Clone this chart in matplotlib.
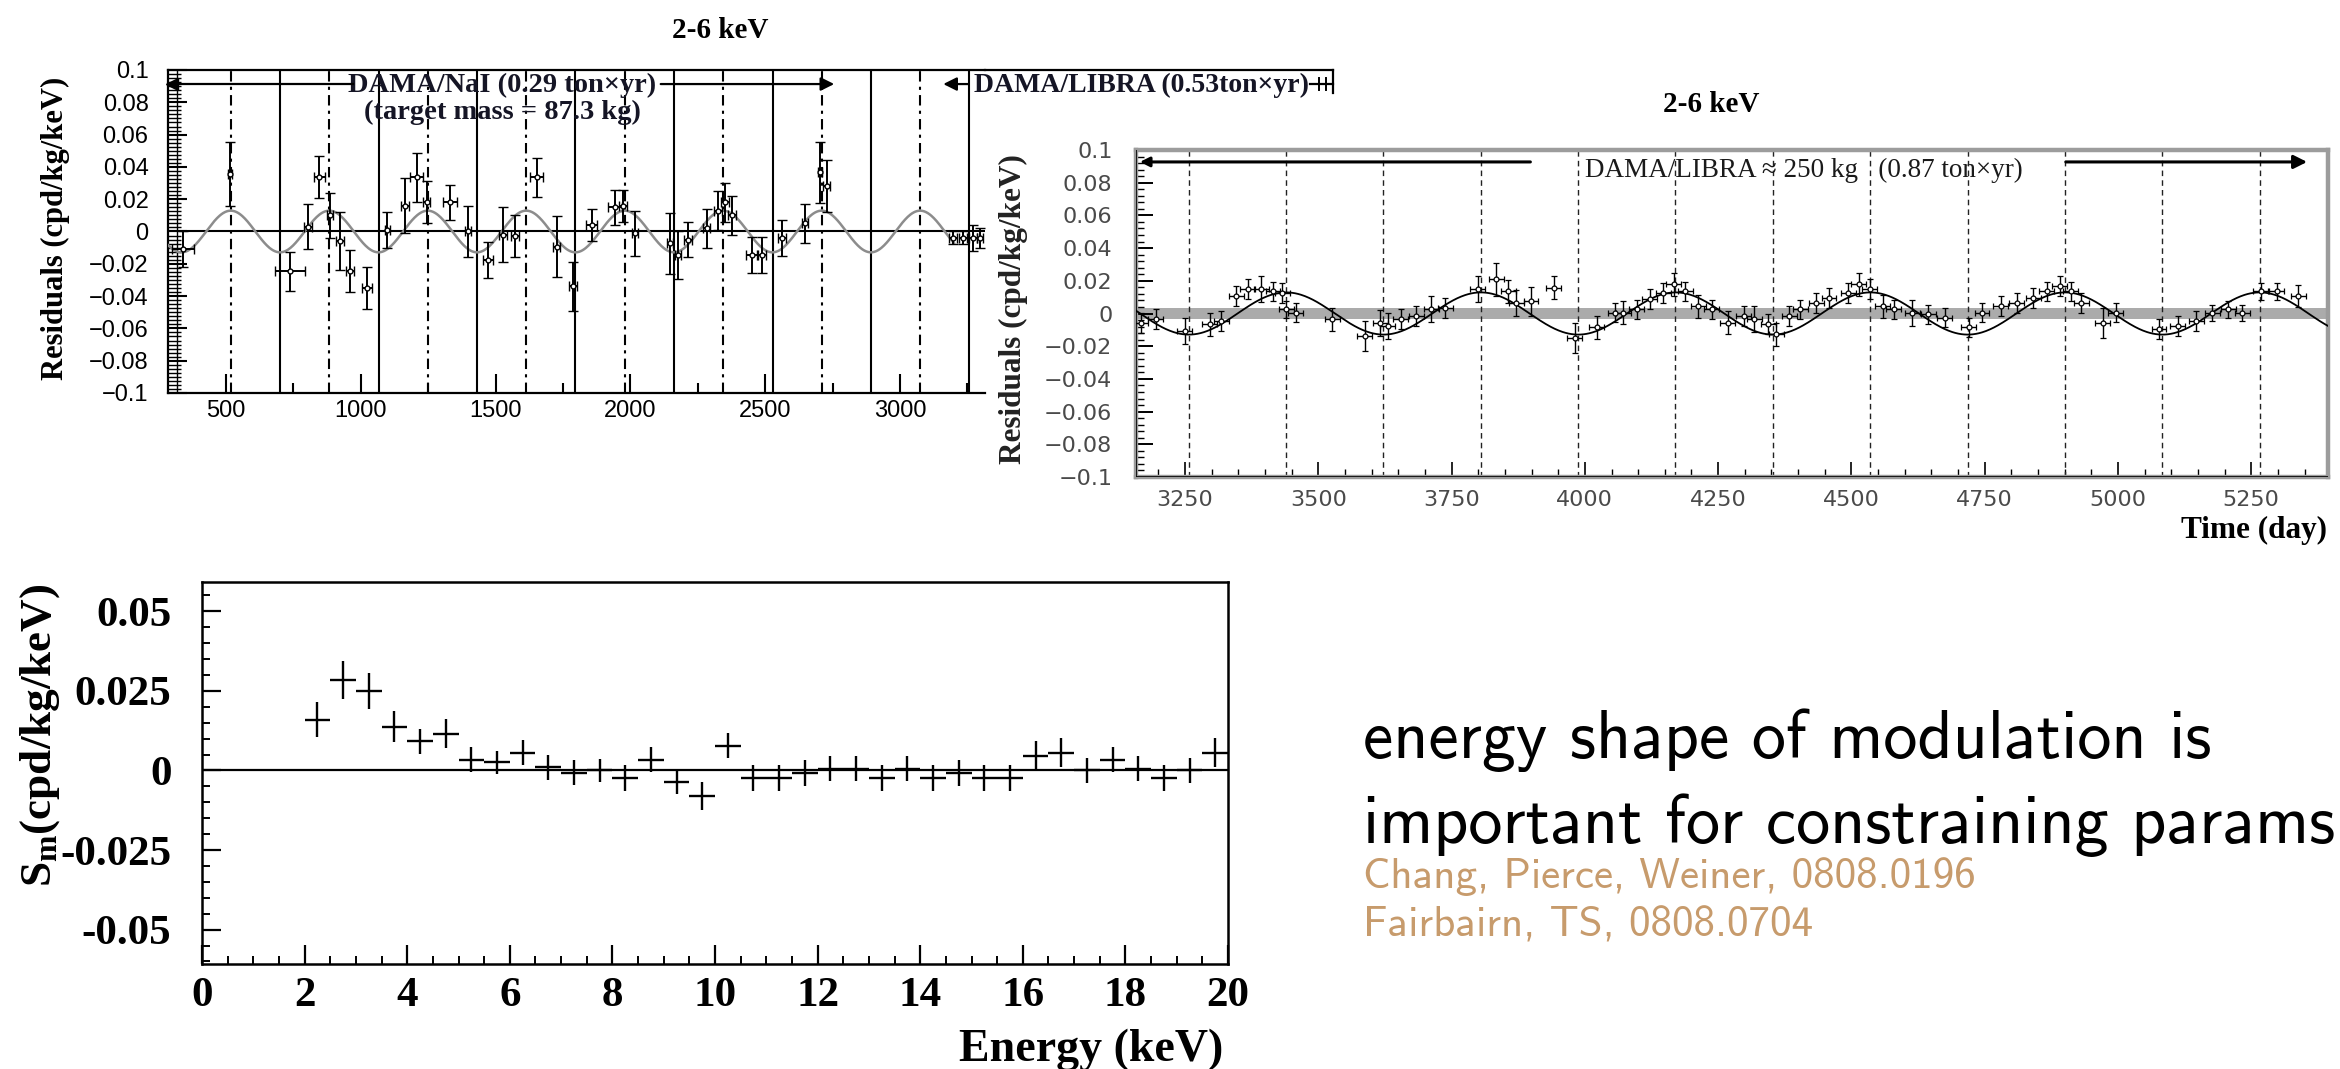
import matplotlib
matplotlib.use('Agg')
import matplotlib.pyplot as plt
import numpy as np
from matplotlib.ticker import MultipleLocator

plt.rcParams['mathtext.fontset'] = 'custom'
plt.rcParams['mathtext.rm'] = 'Liberation Serif:bold'
plt.rcParams['mathtext.bf'] = 'Liberation Serif:bold'
plt.rcParams['mathtext.it'] = 'Liberation Serif:bold'

# ---------------- data ----------------
# DAMA/NaI residuals (top-left)
nai_days = [340, 515, 737, 805, 846, 886, 923, 960, 1022, 1098, 1164, 1207, 1244, 1331,
            1398, 1472, 1528, 1572, 1652, 1726, 1788, 1856, 1943, 1973, 2017, 2147, 2177,
            2214, 2283, 2325, 2351, 2376, 2450, 2487, 2561, 2648, 2703, 2728,
            3198, 3234, 3271, 3297]
nai_res = [-0.011, 0.0356, -0.0247, 0.003, 0.0335, 0.010, -0.006, -0.0247, -0.035, 0.001,
           0.016, 0.0335, 0.018, 0.018, 0.0, -0.0176, -0.002, -0.003, 0.0335, -0.0094,
           -0.034, 0.004, 0.015, 0.016, -0.001, -0.0074, -0.0145, -0.005, 0.002, 0.013,
           0.018, 0.010, -0.0145, -0.0145, -0.004, 0.005, 0.0366, 0.028,
           -0.004, -0.004, -0.004, -0.004]
nai_err = [0.011, 0.020, 0.012, 0.014, 0.013, 0.014, 0.018, 0.013, 0.013, 0.011, 0.017,
           0.015, 0.013, 0.011, 0.016, 0.011, 0.017, 0.013, 0.012, 0.019, 0.015, 0.010,
           0.011, 0.010, 0.014, 0.019, 0.015, 0.011, 0.012, 0.012, 0.012, 0.012, 0.011,
           0.011, 0.011, 0.012, 0.019, 0.016, 0.004, 0.004, 0.008, 0.006]
nai_xerr = [40, 8, 56, 15, 20, 12, 15, 15, 18, 10, 15, 25, 12, 25, 10, 20, 15, 15, 25, 12,
            15, 20, 25, 15, 12, 10, 10, 15, 12, 15, 15, 15, 20, 15, 15, 12, 8, 12,
            15, 15, 15, 12]
nai_min_days = [700, 1066, 1431, 1796, 2161, 2527, 2892, 3257]
nai_max_days = [517, 883, 1248, 1613, 1979, 2344, 2709, 3074]

# DAMA/LIBRA residuals (top-right)
libra_days = [3167, 3195, 3249, 3296, 3318, 3346, 3368, 3393, 3415, 3432, 3440, 3458, 3526,
              3587, 3616, 3630, 3655, 3684, 3712, 3738, 3799, 3834, 3856, 3871, 3899, 3942,
              3981, 4022, 4057, 4072, 4097, 4122, 4147, 4167, 4188, 4213, 4238, 4268, 4298,
              4318, 4344, 4359, 4383, 4404, 4434, 4458, 4494, 4514, 4534, 4559, 4579, 4614,
              4644, 4675, 4720, 4745, 4780, 4810, 4841, 4866, 4891, 4911, 4931, 4971, 4996,
              5077, 5112, 5147, 5177, 5207, 5233, 5268, 5298, 5338]
libra_res = [-0.0057, -0.0035, -0.0108, -0.0065, -0.0045, 0.0107, 0.0148, 0.0148, 0.0135,
             0.0125, 0.0025, 0.0005, -0.0035, -0.0138, -0.0057, -0.0077, -0.0035, -0.0015,
             0.0027, 0.0035, 0.0148, 0.0209, 0.0135, 0.0065, 0.0075, 0.0158, -0.0149,
             -0.0085, 0.0005, 0.0005, 0.0025, 0.0088, 0.0125, 0.0179, 0.0135, 0.0045,
             0.0025, -0.0057, -0.0015, -0.0035, -0.0065, -0.0126, -0.0015, 0.0025, 0.0065,
             0.0095, 0.0125, 0.0179, 0.0148, 0.0045, 0.0025, 0.0005, -0.0005, -0.0025,
             -0.0085, 0.0005, 0.0045, 0.0065, 0.0095, 0.0135, 0.0168, 0.0135, 0.0065,
             -0.0057, 0.0005, -0.0095, -0.0077, -0.0045, 0.0005, 0.0025, 0.0005, 0.0135,
             0.0135, 0.0107]
libra_err = [0.006, 0.006, 0.008, 0.007, 0.006, 0.006, 0.006, 0.008, 0.006, 0.006, 0.005,
             0.006, 0.007, 0.009, 0.008, 0.008, 0.006, 0.006, 0.008, 0.006, 0.008, 0.010,
             0.007, 0.008, 0.009, 0.007, 0.009, 0.007, 0.006, 0.007, 0.006, 0.006, 0.006,
             0.007, 0.006, 0.007, 0.006, 0.007, 0.006, 0.008, 0.006, 0.007, 0.006, 0.006,
             0.006, 0.006, 0.006, 0.007, 0.006, 0.007, 0.006, 0.008, 0.006, 0.006, 0.006,
             0.006, 0.006, 0.006, 0.006, 0.006, 0.006, 0.006, 0.006, 0.009, 0.006, 0.006,
             0.006, 0.006, 0.005, 0.005, 0.005, 0.005, 0.005, 0.007]
libra_lines = [3257, 3440, 3622, 3805, 3988, 4170, 4353, 4535, 4718, 4901, 5083, 5266]

# cosine fit parameters
fit_amplitude = 0.0129
fit_period = 365.25
fit_phase = 152.5

# modulation amplitude vs energy (bottom-left)
energy = [2.25, 2.75, 3.25, 3.75, 4.25, 4.75, 5.25, 5.75, 6.25, 6.75, 7.25, 7.75, 8.25,
          8.75, 9.25, 9.75, 10.25, 10.75, 11.25, 11.75, 12.25, 12.75, 13.25, 13.75, 14.25,
          14.75, 15.25, 15.75, 16.25, 16.75, 17.25, 17.75, 18.25, 18.75, 19.25, 19.75]
sm = [0.016, 0.0285, 0.025, 0.0138, 0.0091, 0.0116, 0.0034, 0.0025, 0.0056, 0.001,
      -0.0007, 0.0, -0.0023, 0.0034, -0.0035, -0.0081, 0.0078, -0.0023, -0.0023, -0.0008,
      0.0006, 0.0006, -0.0023, 0.0006, -0.0023, -0.0008, -0.0023, -0.0023, 0.0044, 0.0056,
      0.0, 0.0034, 0.0006, -0.0023, 0.0, 0.0056]
sm_err = [0.0055, 0.006, 0.0056, 0.005, 0.004, 0.0045, 0.004, 0.0037, 0.004, 0.004, 0.004,
          0.0036, 0.004, 0.004, 0.004, 0.0044, 0.0039, 0.004, 0.004, 0.004, 0.004, 0.004,
          0.004, 0.004, 0.004, 0.004, 0.004, 0.004, 0.0047, 0.0045, 0.004, 0.004, 0.004,
          0.004, 0.004, 0.0045]
sm_bin_half = 0.25

res_ticks = [0.1, 0.08, 0.06, 0.04, 0.02, 0, -0.02, -0.04, -0.06, -0.08, -0.1]
res_labels = ['0.1', '0.08', '0.06', '0.04', '0.02', '0', '\u22120.02', '\u22120.04',
              '\u22120.06', '\u22120.08', '\u22120.1']
sm_ticks = [0.05, 0.025, 0, -0.025, -0.05]
sm_labels = ['0.05', '0.025', '0', '-0.025', '-0.05']

# ---------------- figure ----------------
W, H = 2340, 1069
fig = plt.figure(figsize=(W / 100, H / 100), dpi=100)
SERIF = 'Liberation Serif'


def rect(l, t, r, b):
    return [l / W, 1 - b / H, (r - l) / W, (b - t) / H]


def cosfit(t):
    t = np.asarray(t, dtype=float)
    return fit_amplitude * np.cos(2 * np.pi * (t - fit_phase) / fit_period)


# ---------- panel 1 : DAMA/NaI ----------
ax1 = fig.add_axes(rect(168, 70, 985, 393))
ax1.set_xlim(285, 3315)
ax1.set_ylim(-0.1, 0.1)
for s in ['left', 'top', 'bottom']:
    ax1.spines[s].set_linewidth(1.6)
ax1.spines['right'].set_visible(False)
ax1.axhline(0, color='k', lw=1.5, zorder=2)
for d in nai_min_days:
    ax1.axvline(d, color='k', lw=1.5, zorder=1)
for d in nai_max_days:
    ax1.axvline(d, color='k', lw=1.5, ls=(0, (5, 2.5, 1.5, 2.5)), zorder=1)
tt = np.linspace(285, 3200, 900)
ax1.plot(tt, cosfit(tt), color='#8c8c8c', lw=1.8, zorder=3)
ax1.errorbar(nai_days, nai_res, yerr=nai_err, xerr=nai_xerr, fmt='o', ms=3.5,
             mfc='white', mec='k', mew=1, ecolor='k', elinewidth=1.4, capsize=3.5,
             capthick=1.4, zorder=4)
ax1.xaxis.set_major_locator(MultipleLocator(500))
ax1.xaxis.set_minor_locator(MultipleLocator(250))
ax1.set_yticks(res_ticks, res_labels)
ax1.yaxis.set_minor_locator(MultipleLocator(0.0025))
ax1.tick_params(axis='x', which='major', direction='in', length=14, width=1.5, pad=5,
                labelsize=17, top=False)
ax1.tick_params(axis='x', which='minor', direction='in', length=7, width=1.5, top=False)
ax1.tick_params(axis='y', which='major', direction='in', length=14, width=1.5, pad=14,
                labelsize=17, right=False)
ax1.tick_params(axis='y', which='minor', direction='in', length=9, width=1.0, right=False)
for lab in ax1.get_xticklabels() + ax1.get_yticklabels():
    lab.set_fontfamily('Liberation Sans')
ax1.plot([0.0115, 0.0115], [0, 1], transform=ax1.transAxes, color='k', lw=1.0)

# top strip of panel 1
yl = 0.0913
ax1.plot([285, 971], [yl, yl], color='k', lw=1.6, clip_on=False, zorder=5)
ax1.plot([300], [yl], marker='<', ms=8, color='k', clip_on=False, zorder=5)
ax1.annotate('', xy=(2766, yl), xytext=(2102, yl),
             arrowprops=dict(arrowstyle='-|>', color='k', lw=1.6, mutation_scale=20))
ax1.text(1524, 0.0905, 'DAMA/NaI (0.29 ton\u00d7yr)', ha='center', va='center',
         fontsize=20.5, fontweight='bold', family=SERIF, color='#151525')
ax1.text(1524, 0.0735, '(target mass = 87.3 kg)', ha='center', va='center',
         fontsize=20.5, fontweight='bold', family=SERIF, color='#151525')
ax1.annotate('', xy=(3150, yl), xytext=(3265, yl), annotation_clip=False,
             arrowprops=dict(arrowstyle='-|>', color='k', lw=1.6, mutation_scale=20))
ax1.text(3274, 0.0903, 'DAMA/LIBRA (0.53ton\u00d7yr)', ha='left', va='center',
         fontsize=20, fontweight='bold', family=SERIF, color='#151525')
ax1.plot([3315, 4606], [0.1, 0.1], color='k', lw=1.6, clip_on=False)
ax1.plot([4606, 4606], [0.1, 0.0855], color='k', lw=1.6, clip_on=False)
ax1.plot([4520, 4606], [yl, yl], color='k', lw=1.6, clip_on=False)
ax1.plot([4555, 4555], [0.095, 0.0875], color='k', lw=1.4, clip_on=False)
ax1.plot([4580, 4580], [0.095, 0.0875], color='k', lw=1.4, clip_on=False)

# ---------- panel 2 : DAMA/LIBRA ----------
ax2 = fig.add_axes(rect(1136, 150, 2328, 477))
ax2.set_xlim(3158, 5394)
ax2.set_ylim(-0.1, 0.1)
for s in ax2.spines.values():
    s.set_color('#9c9c9c')
    s.set_linewidth(3.2)
ax2.axhspan(-0.0035, 0.0035, color='#ababab', lw=0, zorder=1)
for d in libra_lines:
    ax2.axvline(d, color='#222222', lw=1.0, ls=(0, (4, 3)), zorder=2)
t2 = np.linspace(3158, 5394, 1200)
ax2.plot(t2, cosfit(t2), color='k', lw=1.3, zorder=3)
ax2.errorbar(libra_days, libra_res, yerr=libra_err, xerr=14, fmt='o', ms=3.5,
             mfc='white', mec='k', mew=0.9, ecolor='k', elinewidth=1.0, capsize=2.5,
             capthick=1.0, zorder=4)
ax2.xaxis.set_major_locator(MultipleLocator(250))
ax2.xaxis.set_minor_locator(MultipleLocator(50))
ax2.set_yticks(res_ticks, res_labels)
ax2.yaxis.set_minor_locator(MultipleLocator(0.004))
ax2.tick_params(axis='x', which='major', direction='in', length=11, width=1.2, pad=9,
                labelsize=16, labelcolor='#4a4a4a', top=False)
ax2.tick_params(axis='x', which='minor', direction='in', length=6, width=1.0, top=False)
ax2.tick_params(axis='y', which='major', direction='in', length=12, width=1.4, pad=17,
                labelsize=16, labelcolor='#4a4a4a', right=False)
ax2.tick_params(axis='y', which='minor', direction='in', length=6, width=1.0, right=False)
for lab in ax2.get_xticklabels() + ax2.get_yticklabels():
    lab.set_fontfamily('DejaVu Sans')
ax2.axvline(3158, color='k', lw=1.2, zorder=5)
ax2.axhline(-0.1, color='k', lw=1.2, zorder=5)
yl2 = 0.0927
ax2.annotate('', xy=(3160, yl2), xytext=(3903, yl2),
             arrowprops=dict(arrowstyle='-|>', color='k', lw=2.2, mutation_scale=14))
ax2.text(4000, 0.0878, 'DAMA/LIBRA \u2248 250 kg   (0.87 ton\u00d7yr)', ha='left',
         va='center', fontsize=19.5, family=SERIF, color='#1a1a1a')
ax2.annotate('', xy=(5360, yl2), xytext=(4897, yl2),
             arrowprops=dict(arrowstyle='-|>', color='k', lw=2.2, mutation_scale=20))

# ---------- panel 3 : S_m vs energy ----------
ax3 = fig.add_axes(rect(202, 582, 1228, 964))
ax3.set_xlim(0, 20)
ax3.set_ylim(-0.0608, 0.0592)
for s in ax3.spines.values():
    s.set_linewidth(1.8)
ax3.axhline(0, color='k', lw=1.6)
ax3.errorbar(energy, sm, yerr=sm_err, xerr=sm_bin_half, fmt='none', ecolor='k',
             elinewidth=1.7)
ax3.xaxis.set_major_locator(MultipleLocator(2))
ax3.xaxis.set_minor_locator(MultipleLocator(0.5))
ax3.set_yticks(sm_ticks, sm_labels)
ax3.yaxis.set_minor_locator(MultipleLocator(0.005))
ax3.tick_params(axis='x', which='major', direction='in', length=14, width=1.6, pad=9,
                labelsize=31, top=False)
ax3.tick_params(axis='x', which='minor', direction='in', length=6, width=1.4, top=False)
ax3.tick_params(axis='y', which='major', direction='in', length=14, width=1.6, pad=22,
                labelsize=31, right=False)
ax3.tick_params(axis='y', which='minor', direction='in', length=6, width=1.4, right=False)
for lab in ax3.get_xticklabels() + ax3.get_yticklabels():
    lab.set_fontfamily(SERIF)
    lab.set_fontweight('bold')

# ---------- titles and axis labels ----------
fig.text(720 / W, 1 - 30 / H, '2-6 keV', ha='center', va='center', fontsize=21,
         fontweight='bold', family=SERIF)
fig.text(1711 / W, 1 - 105 / H, '2-6 keV', ha='center', va='center', fontsize=21,
         fontweight='bold', family=SERIF)
fig.text(55 / W, 1 - 228 / H, 'Residuals (cpd/kg/keV)', rotation=90, ha='center',
         va='center', fontsize=22, fontweight='bold', family=SERIF)
fig.text(1013 / W, 1 - 309 / H, 'Residuals (cpd/kg/keV)', rotation=90, ha='center',
         va='center', fontsize=22.5, fontweight='bold', family=SERIF, color='#222222')
fig.text(2327 / W, 1 - 530 / H, 'Time (day)', ha='right', va='center', fontsize=22.5,
         fontweight='bold', family=SERIF)
fig.text(1223 / W, 1 - 1050 / H, 'Energy (keV)', ha='right', va='center', fontsize=33,
         fontweight='bold', family=SERIF)
fig.text(40 / W, 1 - 735 / H, r'S$_\mathrm{m}$(cpd/kg/keV)', rotation=90, ha='center',
         va='center', fontsize=32.5, fontweight='bold', family=SERIF)

# ---------- slide text ----------
fig.text(1363 / W, 1 - 758 / H, 'energy shape of modulation is', family='cmss10',
         fontsize=49, va='baseline', ha='left')
fig.text(1363 / W, 1 - 843 / H, 'important for constraining params', family='cmss10',
         fontsize=49, va='baseline', ha='left')
fig.text(1363 / W, 1 - 888 / H, 'Chang, Pierce, Weiner, 0808.0196', family='cmss10',
         fontsize=31, va='baseline', ha='left', color='#c79b6c')
fig.text(1363 / W, 1 - 937 / H, 'Fairbairn, TS, 0808.0704', family='cmss10',
         fontsize=31, va='baseline', ha='left', color='#c79b6c')

fig.savefig('out.png', dpi=100, facecolor='white')
